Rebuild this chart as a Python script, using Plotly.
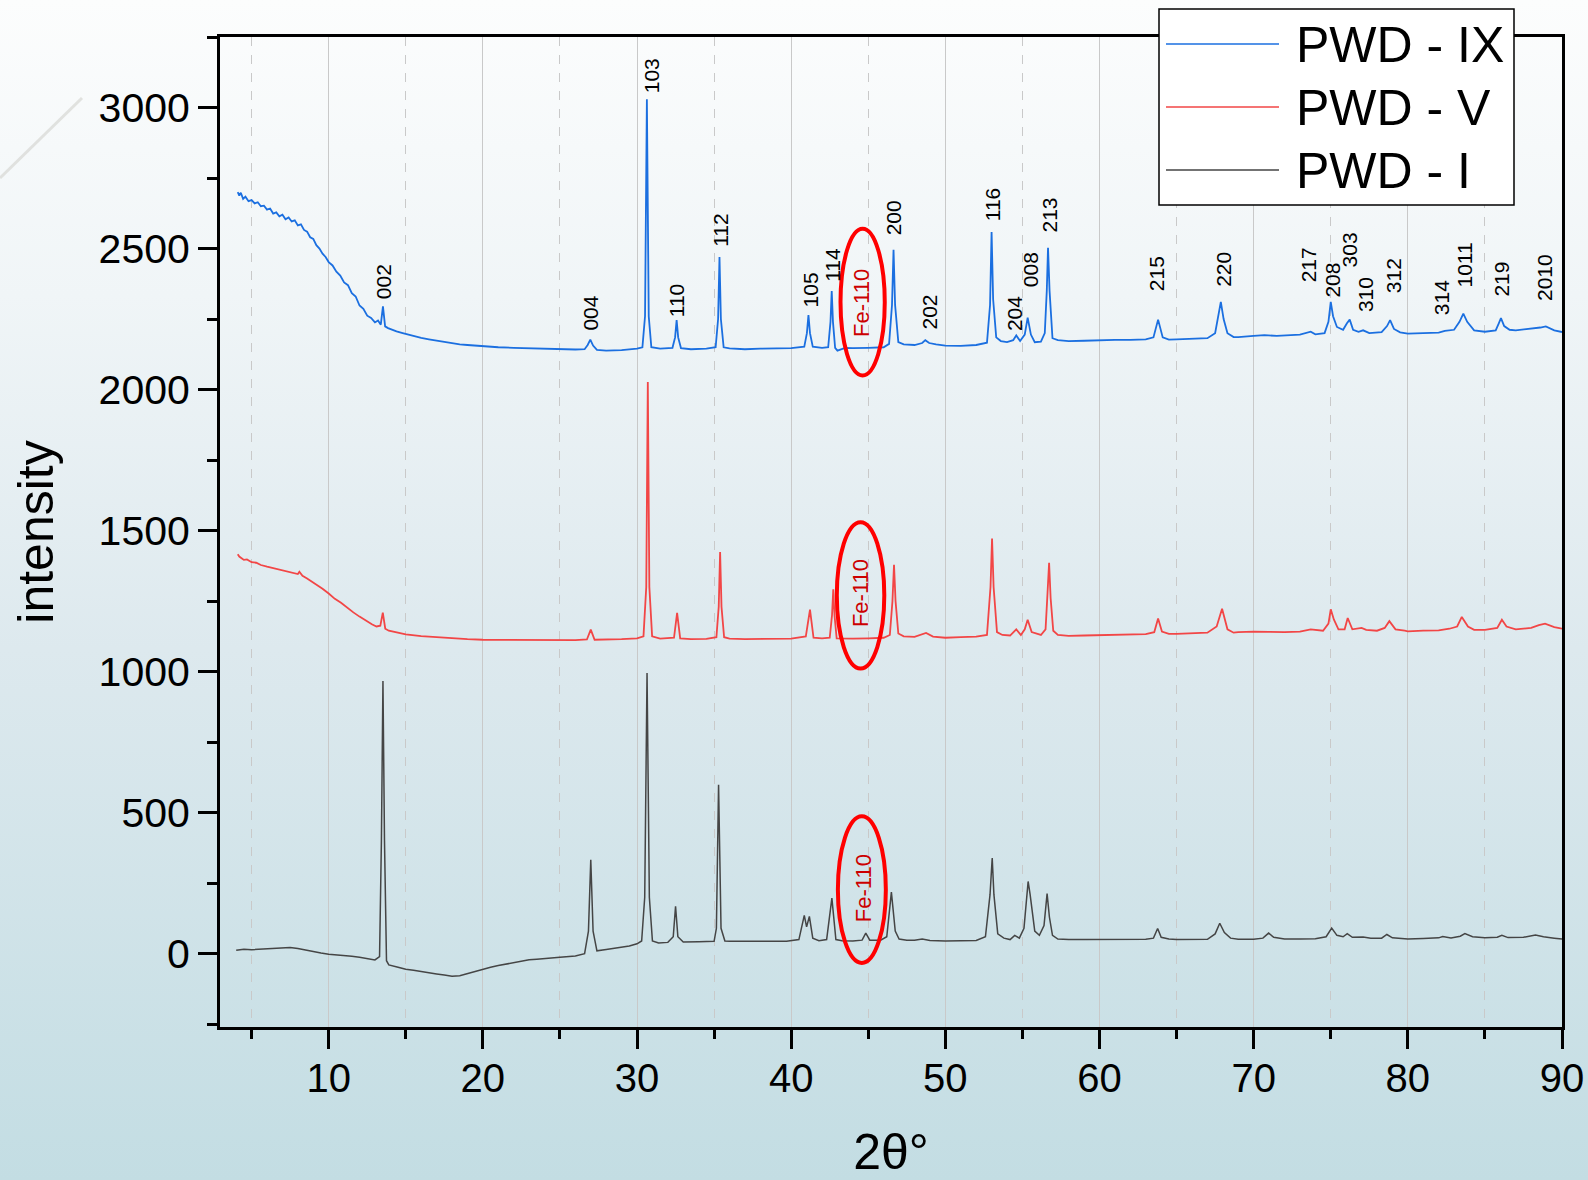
import base64
import plotly.graph_objects as go

# ---- diffraction patterns (2-theta in degrees, intensity in counts) ----
pwd_ix = [
    (4.1, 2700), (4.2, 2688), (4.3, 2698), (4.45, 2676), (4.6, 2684), (4.8, 2668), (5.0, 2672),
    (5.2, 2660), (5.4, 2664), (5.6, 2650), (5.8, 2652), (6.0, 2638), (6.2, 2642), (6.4, 2624),
    (6.6, 2628), (6.8, 2614), (7.0, 2620), (7.2, 2604), (7.4, 2610), (7.6, 2596), (7.8, 2600),
    (8.0, 2582), (8.2, 2586), (8.4, 2566), (8.6, 2560), (8.8, 2540), (9.0, 2534), (9.2, 2512),
    (9.4, 2500), (9.6, 2482), (9.8, 2470), (10.0, 2452), (10.25, 2440), (10.5, 2418), (10.75, 2404),
    (11.0, 2380), (11.25, 2370), (11.5, 2342), (11.75, 2330), (12.0, 2298), (12.25, 2286),
    (12.5, 2262), (12.75, 2254), (13.0, 2238), (13.2, 2245), (13.38, 2230), (13.52, 2295),
    (13.66, 2224), (13.85, 2218), (14.1, 2212), (14.4, 2206), (14.8, 2200), (15.2, 2194),
    (15.6, 2188), (16.0, 2183), (16.5, 2178), (17.0, 2173), (17.5, 2168), (18.0, 2164),
    (18.5, 2160), (19.0, 2158), (20.0, 2153), (21.0, 2150), (22.0, 2148), (23.0, 2146),
    (24.0, 2145), (25.0, 2144), (26.0, 2142), (26.6, 2143), (26.8, 2158), (26.97, 2177),
    (27.15, 2156), (27.4, 2141), (28.0, 2138), (29.0, 2140), (30.0, 2145), (30.35, 2150),
    (30.52, 2260), (30.64, 3029), (30.76, 2260), (30.93, 2150), (31.5, 2145), (32.3, 2148),
    (32.47, 2185), (32.57, 2246), (32.67, 2185), (32.85, 2147), (33.5, 2143), (34.5, 2145),
    (35.1, 2150), (35.26, 2250), (35.35, 2470), (35.44, 2250), (35.62, 2150), (36.0, 2146),
    (37.0, 2143), (38.0, 2145), (39.0, 2146), (40.0, 2147), (40.85, 2152), (41.02, 2200),
    (41.12, 2264), (41.22, 2200), (41.4, 2152), (42.0, 2148), (42.4, 2150), (42.55, 2240),
    (42.63, 2349), (42.71, 2240), (42.85, 2148), (43.0, 2138), (43.5, 2148), (44.0, 2147),
    (45.0, 2148), (46.0, 2150), (46.35, 2162), (46.54, 2300), (46.64, 2496), (46.74, 2300),
    (46.95, 2168), (47.3, 2160), (48.0, 2158), (48.5, 2165), (48.7, 2175), (48.95, 2165),
    (49.4, 2160), (50.0, 2156), (51.0, 2155), (52.0, 2158), (52.7, 2166), (52.9, 2300),
    (53.0, 2559), (53.1, 2320), (53.3, 2185), (53.6, 2172), (54.0, 2168), (54.4, 2175),
    (54.6, 2192), (54.85, 2172), (55.15, 2195), (55.34, 2255), (55.55, 2195), (55.8, 2168),
    (56.2, 2170), (56.45, 2200), (56.58, 2350), (56.66, 2503), (56.76, 2350), (56.95, 2182),
    (57.3, 2175), (58.0, 2172), (59.0, 2173), (60.0, 2175), (61.0, 2176), (62.0, 2176),
    (63.0, 2178), (63.5, 2185), (63.8, 2248), (64.1, 2185), (64.5, 2177), (65.0, 2178),
    (66.0, 2180), (67.0, 2182), (67.5, 2200), (67.72, 2260), (67.87, 2311), (68.05, 2250),
    (68.3, 2200), (68.7, 2186), (69.0, 2186), (70.0, 2190), (70.7, 2193), (71.5, 2190),
    (72.0, 2192), (73.0, 2195), (73.7, 2205), (74.0, 2196), (74.6, 2200), (74.85, 2240),
    (75.0, 2311), (75.15, 2260), (75.4, 2222), (75.8, 2212), (76.05, 2235), (76.23, 2248),
    (76.45, 2212), (76.8, 2205), (77.1, 2210), (77.5, 2200), (78.3, 2204), (78.65, 2225),
    (78.85, 2246), (79.1, 2215), (79.5, 2203), (80.0, 2198), (81.0, 2200), (82.0, 2202),
    (82.4, 2208), (83.0, 2212), (83.35, 2240), (83.6, 2269), (83.85, 2240), (84.3, 2210),
    (85.0, 2205), (85.7, 2210), (85.9, 2235), (86.04, 2253), (86.25, 2225), (86.6, 2212),
    (87.0, 2210), (88.0, 2215), (88.6, 2220), (88.95, 2224), (89.5, 2210), (90.0, 2204),
]

pwd_v = [
    (4.1, 1416), (4.2, 1408), (4.35, 1402), (4.5, 1396), (4.7, 1398), (5.0, 1388), (5.3, 1386),
    (5.6, 1378), (6.0, 1372), (6.3, 1368), (6.6, 1362), (7.0, 1358), (7.3, 1354), (7.6, 1350),
    (8.0, 1346), (8.1, 1354), (8.3, 1340), (8.6, 1330), (9.0, 1316), (9.3, 1304), (9.6, 1294),
    (10.0, 1277), (10.4, 1258), (10.8, 1244), (11.2, 1226), (11.6, 1210), (12.0, 1195),
    (12.4, 1180), (12.8, 1168), (13.1, 1160), (13.35, 1163), (13.51, 1209), (13.67, 1152),
    (13.9, 1145), (14.5, 1138), (15.0, 1132), (16.0, 1126), (17.0, 1122), (18.0, 1118),
    (19.0, 1115), (20.0, 1113), (22.0, 1112), (24.0, 1111), (26.0, 1112), (26.75, 1114),
    (27.0, 1149), (27.25, 1113), (28.0, 1113), (29.0, 1115), (30.0, 1118), (30.42, 1125),
    (30.6, 1300), (30.7, 2027), (30.8, 1300), (30.98, 1125), (31.5, 1117), (32.4, 1120),
    (32.6, 1208), (32.8, 1118), (33.5, 1115), (34.5, 1116), (35.15, 1122), (35.3, 1230),
    (35.39, 1424), (35.48, 1230), (35.65, 1122), (36.0, 1117), (37.0, 1115), (38.0, 1116),
    (39.0, 1117), (40.0, 1117), (40.95, 1125), (41.22, 1220), (41.45, 1120), (42.0, 1118),
    (42.5, 1120), (42.65, 1200), (42.73, 1292), (42.81, 1200), (42.95, 1118), (43.5, 1117),
    (44.0, 1117), (45.0, 1118), (46.0, 1120), (46.4, 1130), (46.57, 1250), (46.67, 1379),
    (46.77, 1250), (46.95, 1135), (47.3, 1125), (48.0, 1123), (48.75, 1137), (49.2, 1124),
    (50.0, 1120), (51.0, 1122), (52.0, 1124), (52.7, 1130), (52.93, 1300), (53.03, 1472),
    (53.13, 1300), (53.35, 1140), (53.7, 1130), (54.2, 1128), (54.6, 1150), (54.9, 1130),
    (55.15, 1150), (55.34, 1184), (55.6, 1140), (56.2, 1130), (56.5, 1150), (56.63, 1280),
    (56.73, 1386), (56.83, 1260), (57.0, 1145), (57.3, 1130), (58.0, 1127), (59.0, 1128),
    (60.0, 1129), (61.0, 1130), (62.0, 1131), (63.0, 1133), (63.55, 1140), (63.8, 1188),
    (64.05, 1142), (64.5, 1134), (65.0, 1134), (66.0, 1135), (67.0, 1138), (67.6, 1160),
    (67.95, 1223), (68.3, 1150), (68.7, 1138), (69.0, 1140), (70.0, 1142), (71.0, 1141),
    (72.0, 1140), (73.0, 1142), (73.7, 1150), (74.5, 1145), (74.85, 1170), (75.0, 1221),
    (75.2, 1185), (75.5, 1150), (75.9, 1150), (76.1, 1190), (76.4, 1150), (77.0, 1155),
    (77.3, 1148), (78.0, 1145), (78.5, 1155), (78.8, 1179), (79.2, 1150), (79.8, 1145),
    (80.0, 1143), (81.0, 1145), (82.0, 1146), (82.7, 1152), (83.2, 1160), (83.5, 1194),
    (83.9, 1160), (84.3, 1148), (85.0, 1148), (85.8, 1155), (86.1, 1184), (86.4, 1160),
    (87.0, 1150), (88.0, 1155), (88.5, 1165), (88.9, 1170), (89.5, 1158), (90.0, 1152),
]

pwd_i = [
    (4.0, 12), (4.5, 16), (5.0, 14), (6.0, 17), (7.0, 18), (7.5, 22), (8.0, 18), (8.5, 12),
    (9.0, 6), (9.5, 2), (10.0, -2), (10.5, -4), (11.0, -6), (11.5, -9), (12.0, -13),
    (12.5, -17), (13.0, -22), (13.3, -10), (13.42, 400), (13.52, 967), (13.62, 400),
    (13.75, -25), (13.9, -40), (14.5, -48), (15.0, -55), (15.5, -59), (16.0, -64), (16.5, -68),
    (17.0, -72), (17.5, -76), (18.0, -80), (18.5, -78), (19.0, -70), (19.5, -63), (20.0, -55),
    (20.5, -48), (21.0, -42), (21.5, -37), (22.0, -30), (22.5, -26), (23.0, -22), (23.5, -20),
    (24.0, -17), (25.0, -13), (26.0, -8), (26.6, 0), (26.85, 80), (27.0, 333), (27.15, 80),
    (27.4, 10), (28.0, 15), (29.0, 22), (29.5, 27), (30.0, 35), (30.3, 45), (30.5, 200),
    (30.65, 995), (30.8, 200), (31.0, 45), (31.4, 38), (32.0, 40), (32.35, 60), (32.5, 168),
    (32.65, 60), (33.0, 41), (34.0, 42), (35.0, 44), (35.15, 90), (35.29, 599), (35.45, 90),
    (35.7, 45), (36.0, 44), (37.0, 44), (38.0, 43), (39.0, 44), (39.7, 44), (40.5, 50),
    (40.85, 136), (41.0, 95), (41.18, 132), (41.4, 55), (41.8, 46), (42.3, 50), (42.64, 197),
    (42.9, 50), (43.3, 46), (44.0, 45), (44.6, 48), (44.84, 73), (45.1, 48), (45.8, 48),
    (46.2, 60), (46.5, 218), (46.75, 80), (47.0, 52), (47.5, 48), (48.0, 48), (48.5, 52),
    (49.0, 47), (50.0, 45), (51.0, 46), (52.0, 47), (52.6, 60), (52.9, 210), (53.04, 339),
    (53.15, 210), (53.4, 70), (53.8, 55), (54.2, 50), (54.5, 65), (54.8, 55), (55.1, 90),
    (55.37, 256), (55.5, 209), (55.8, 80), (56.1, 65), (56.4, 100), (56.6, 213), (56.75, 130),
    (56.95, 65), (57.3, 52), (58.0, 50), (59.0, 50), (60.0, 50), (61.0, 50), (62.0, 51),
    (63.0, 51), (63.5, 55), (63.77, 89), (64.0, 58), (64.5, 52), (65.0, 50), (66.0, 50),
    (67.0, 51), (67.5, 70), (67.8, 108), (68.1, 75), (68.5, 55), (69.0, 51), (70.0, 51),
    (70.6, 55), (70.97, 73), (71.3, 58), (72.0, 52), (73.0, 52), (74.0, 53), (74.7, 60),
    (75.06, 91), (75.4, 65), (75.8, 60), (76.07, 71), (76.4, 58), (77.1, 59), (77.6, 55),
    (78.3, 55), (78.64, 68), (79.0, 56), (80.0, 52), (81.0, 54), (82.0, 56), (82.26, 61),
    (82.8, 56), (83.4, 62), (83.7, 71), (84.2, 60), (85.0, 56), (85.8, 58), (86.1, 65),
    (86.5, 57), (87.5, 58), (88.28, 66), (88.8, 60), (89.5, 55), (90.0, 52),
]

series_names = ["PWD - IX", "PWD - V", "PWD - I"]
series_colors = ["#1b6fe0", "#f24646", "#454545"]
series_widths = [1.8, 1.8, 1.5]

# ---- reflection labels (hkl, 2-theta, label centre intensity) ----
hkl_labels = ["002", "004", "103", "110", "112", "105", "114", "200", "202", "116", "204",
              "008", "213", "215", "220", "217", "208", "303", "310", "312", "314", "1011",
              "219", "2010"]
hkl_theta = [13.55, 27.0, 30.9, 32.56, 35.45, 41.23, 42.69, 46.64, 48.99, 53.05, 54.48,
             55.52, 56.74, 63.7, 67.99, 73.57, 75.13, 76.23, 77.24, 79.03, 82.19, 83.7,
             86.1, 88.88]
hkl_level = [2382, 2272, 3114, 2315, 2563, 2352, 2441, 2609, 2276, 2655, 2269,
             2425, 2618, 2411, 2427, 2443, 2389, 2496, 2336, 2405, 2326, 2443,
             2393, 2398]

# Fe(110) markers: label position and surrounding ellipse (x0, x1, y0, y1) per pattern
fe_label_theta = [44.57, 44.54, 44.74]
fe_label_level = [2306, 1279, 233]
fe_ellipses = [(43.2, 46.07, 2050, 2570), (42.96, 46.04, 1011, 1530), (43.03, 46.14, -33, 487)]

FONT = "Liberation Sans, Arial, sans-serif"
W, H = 1588, 1180
ML, MR, MT, MB = 220, 26, 37, 153
PW, PH = W - ML - MR, H - MT - MB


def px_x(px):
    """page pixel column -> paper x"""
    return (px - ML) / PW


def px_y(py):
    """page pixel row -> paper y"""
    return (H - MB - py) / PH


fig = go.Figure()
for name, color, lw, data in zip(series_names, series_colors, series_widths,
                                 [pwd_ix, pwd_v, pwd_i]):
    fig.add_trace(go.Scatter(
        x=[p[0] for p in data], y=[p[1] for p in data], mode="lines", name=name,
        line=dict(color=color, width=lw), showlegend=False,
    ))

annotations = []
for lab, th, lv in zip(hkl_labels, hkl_theta, hkl_level):
    annotations.append(dict(x=th, y=lv, xref="x", yref="y", text=lab, showarrow=False,
                            textangle=-90, xanchor="center", yanchor="middle",
                            font=dict(family=FONT, size=21, color="black")))
for th, lv in zip(fe_label_theta, fe_label_level):
    annotations.append(dict(x=th, y=lv, xref="x", yref="y", text="Fe-110", showarrow=False,
                            textangle=-90, xanchor="center", yanchor="middle",
                            font=dict(family=FONT, size=22, color="#cc0000")))

shapes = []
for x0, x1, y0, y1 in fe_ellipses:
    shapes.append(dict(type="circle", xref="x", yref="y", x0=x0, x1=x1, y0=y0, y1=y1,
                       line=dict(color="#ff0000", width=4)))
# faint glare streak in the upper-left corner of the page
shapes.append(dict(type="line", xref="paper", yref="paper",
                   x0=px_x(0), y0=px_y(178), x1=px_x(82), y1=px_y(98),
                   line=dict(color="rgba(205,205,200,0.55)", width=3)))

# legend box with long line samples
shapes.append(dict(type="rect", xref="paper", yref="paper",
                   x0=px_x(1159), x1=px_x(1514), y0=px_y(205), y1=px_y(9),
                   fillcolor="white", line=dict(color="black", width=1.5)))
legend_rows = [44, 107, 170]
for name, color, row in zip(series_names, series_colors, legend_rows):
    shapes.append(dict(type="line", xref="paper", yref="paper",
                       x0=px_x(1166), x1=px_x(1279), y0=px_y(row), y1=px_y(row),
                       line=dict(color=color, width=1.5)))
    annotations.append(dict(x=px_x(1294), y=px_y(row + 1), xref="paper", yref="paper",
                            text=name, showarrow=False, xanchor="left", yanchor="middle",
                            font=dict(family=FONT, size=50, color="black")))

# page background: vertical gradient from near white to pale blue
svg = (
    f'<svg xmlns="http://www.w3.org/2000/svg" width="{W}" height="{H}" '
    f'viewBox="0 0 {W} {H}" preserveAspectRatio="none">'
    '<defs><linearGradient id="g" x1="0" y1="0" x2="0" y2="1">'
    '<stop offset="0" stop-color="#fcfdfd"/>'
    '<stop offset="0.25" stop-color="#f0f5f7"/>'
    '<stop offset="0.55" stop-color="#dde9ee"/>'
    '<stop offset="1" stop-color="#c3dde3"/>'
    '</linearGradient></defs>'
    f'<rect width="{W}" height="{H}" fill="url(#g)"/></svg>'
)
bg_src = "data:image/svg+xml;base64," + base64.b64encode(svg.encode()).decode()

fig.update_layout(
    width=W, height=H,
    margin=dict(l=ML, r=MR, t=MT, b=MB, autoexpand=False),
    paper_bgcolor="white",
    plot_bgcolor="rgba(0,0,0,0)",
    font=dict(family=FONT, color="black"),
    images=[dict(source=bg_src, xref="paper", yref="paper",
                 x=-ML / PW, y=1 + MT / PH, sizex=W / PW, sizey=H / PH,
                 xanchor="left", yanchor="top", sizing="stretch", layer="below")],
    annotations=annotations,
    shapes=shapes,
    showlegend=False,
    xaxis=dict(
        range=[2.95, 90], showline=True, linecolor="black", linewidth=3, mirror=True,
        ticks="outside", ticklen=19, tickwidth=3, tickcolor="black",
        tick0=0, dtick=10, tickfont=dict(family=FONT, size=40, color="black"),
        ticklabelstandoff=-5,
        showgrid=True, gridcolor="#c9c9c9", gridwidth=1, zeroline=False,
        minor=dict(dtick=5, tick0=0, ticks="outside", ticklen=9, tickwidth=3, tickcolor="black",
                   showgrid=True, gridcolor="#c9c9c9", griddash="dash", gridwidth=1),
        title=dict(text="2θ°", font=dict(family=FONT, size=50, color="black"), standoff=48),
    ),
    yaxis=dict(
        range=[-260, 3250], showline=True, linecolor="black", linewidth=3, mirror=True,
        ticks="outside", ticklen=19, tickwidth=3, tickcolor="black",
        tick0=0, dtick=500, tickfont=dict(family=FONT, size=41, color="black"),
        showgrid=False, zeroline=False,
        minor=dict(dtick=250, tick0=0, ticks="outside", ticklen=10, tickwidth=3,
                   tickcolor="black", showgrid=False),
        title=dict(text="intensity", font=dict(family=FONT, size=50, color="black"), standoff=30),
    ),
)

fig.write_html("out.html")
